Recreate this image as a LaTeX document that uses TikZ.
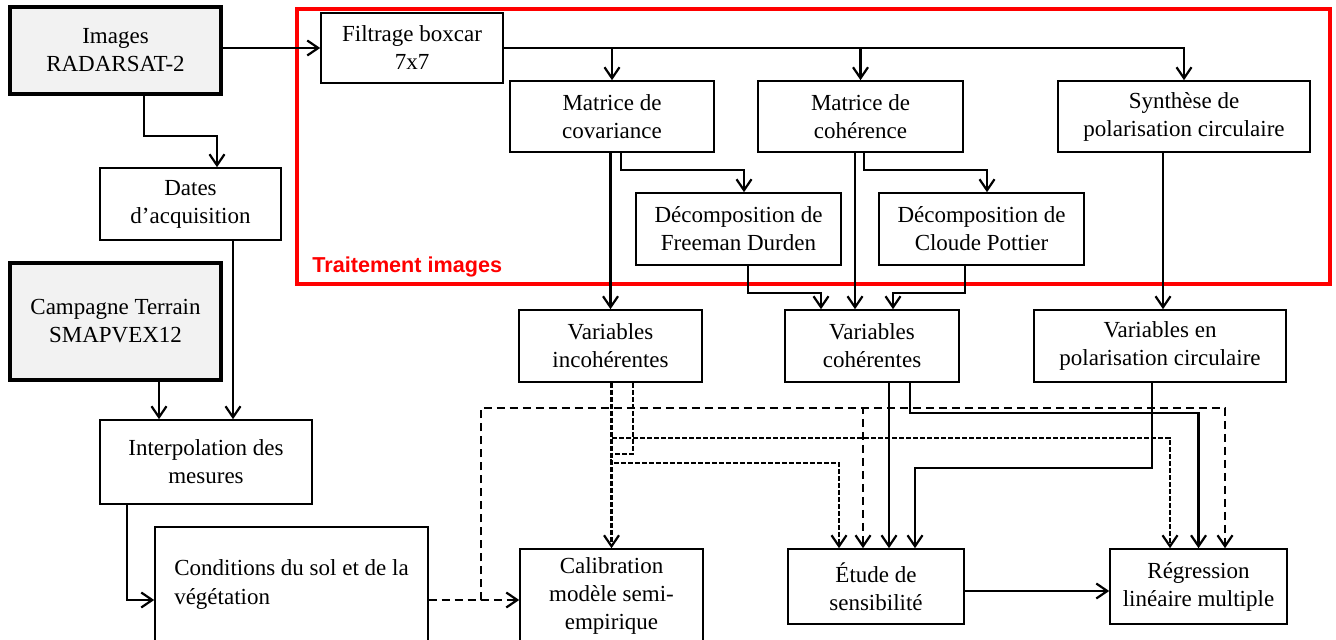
\documentclass[tikz,border=0pt]{standalone}
\usepackage{fontspec}
\setmainfont{Liberation Serif}
\newfontfamily\titrefont{Liberation Sans}
\usetikzlibrary{arrows.meta,positioning}
\definecolor{grisclair}{rgb}{0.95,0.95,0.95}
\definecolor{rougecadre}{rgb}{1,0,0}
\tikzset{
  boite/.style={
    draw=black,
    line width=.8pt,
    fill=white,
    align=center,
    inner sep=2pt,
    font=\fontsize{11.5}{14}\selectfont
  },
  boitegrise/.style={
    boite,
    fill=grisclair,
    line width=1.7pt
  },
  fleche/.style={
    -{Straight Barb[length=5.5pt,width=7.5pt]},
    line width=1.1pt
  },
  fine/.style={
    line width=.8pt
  },
  tirets/.style={
    dash pattern=on 4pt off 2.5pt,
    line width=1.2pt
  },
  pointille/.style={
    dash pattern=on 2.5pt off 1pt,
    line width=1pt
  },
  cadre/.style={
    draw=rougecadre,
    line width=2pt
  },
  titre/.style={
    text=rougecadre,
    inner sep=0pt,
    font=\titrefont\bfseries\fontsize{10.8}{12}\selectfont
  }
}

\begin{document}
\begin{tikzpicture}[x=.5pt,y=-.5pt]
\useasboundingbox (0,0) rectangle (1336,640);
% cadre du traitement
\draw[cadre] (297,9.5) rectangle (1330,284);
\node[titre,anchor=base west] (trait) at (312,273) {Traitement images};
% colonne de gauche
\node[boitegrise,minimum width=105.5pt,minimum height=43.5pt] (img) at (115.5,50.5) {Images\\RADARSAT-2};
\node[boite,minimum width=90.5pt,minimum height=36pt] (dates) at (190.5,204) {Dates\\d’acquisition};
\node[boitegrise,minimum width=105.5pt,minimum height=58.5pt] (camp) at (115.5,321.5) {Campagne Terrain\\SMAPVEX12};
\node[boite,minimum width=106pt,minimum height=42pt] (interp) at (206,462) {Interpolation des\\mesures};
\node[boite,align=left,minimum width=136.5pt,minimum height=57.5pt] (cond) at (291.5,584.5) {Conditions du sol et de la\\végétation};
% traitement images
\node[boite,minimum width=91pt,minimum height=35pt] (filt) at (412,48) {Filtrage boxcar\\7x7};
\node[boite,minimum width=102pt,minimum height=35.5pt] (mcov) at (612,116.5) {Matrice de\\covariance};
\node[boite,minimum width=102.5pt,minimum height=35.5pt] (mcoh) at (860.5,116.5) {Matrice de\\cohérence};
\node[boite,minimum width=126pt,minimum height=35.5pt] (synth) at (1184,116.5) {Synthèse de\\polarisation circulaire};
\node[boite,minimum width=102.5pt,minimum height=36pt] (fd) at (738.5,229) {Décomposition de\\Freeman Durden};
\node[boite,minimum width=102.5pt,minimum height=36pt] (cp) at (981.5,229) {Décomposition de\\Cloude Pottier};
% variables
\node[boite,minimum width=91.5pt,minimum height=36pt] (vinc) at (610.5,346) {Variables\\incohérentes};
\node[boite,minimum width=87pt,minimum height=36pt] (vcoh) at (872,346) {Variables\\cohérentes};
\node[boite,minimum width=126pt,minimum height=36pt] (vpol) at (1160,346) {Variables en\\polarisation circulaire};
% analyses
\node[boite,minimum width=91.5pt,minimum height=47pt] (calib) at (611.5,596) {Calibration\\modèle semi-\\empirique};
\node[boite,minimum width=88pt,minimum height=37.5pt] (etude) at (876,586.5) {Étude de\\sensibilité};
\node[boite,minimum width=88.5pt,minimum height=37.5pt] (regr) at (1198.5,586.5) {Régression\\linéaire multiple};
% liaisons de gauche
\draw[fleche] (img.east |- filt.west) -- (filt.west);
\draw[fleche] (img.south -| 144,0) |- (217,136) -- (dates.north -| 217,0);
\draw[fine,fleche] (dates.south -| 233,0) -- (interp.north -| 233,0);
\draw[fleche] (camp.south -| 159,0) -- (interp.north -| 159,0);
\draw[fleche] (interp.south -| 127,0) |- (cond.west |- 0,600);
% liaisons du traitement
\draw[fleche] (filt.east) -| (synth.north);
\draw[fleche] (mcov.north |- filt.east) -- (mcov.north);
\draw[fleche] (mcoh.north |- filt.east) -- (mcoh.north);
\draw[fleche] (mcov.south -| 621,0) |- (744,170) -- (fd.north -| 744,0);
\draw[fleche] (mcoh.south -| 864,0) |- (987,170) -- (cp.north -| 987,0);
\draw[fine,fleche] (mcov.south -| vinc.north) -- (vinc.north);
\draw[fleche] (mcoh.south -| 855,0) -- (vcoh.north -| 855,0);
\draw[fine,fleche] (synth.south -| 1163,0) -- (vpol.north -| 1163,0);
\draw[fleche] (fd.south -| 748,0) |- (821,293) -- (vcoh.north -| 821,0);
\draw[fleche] (cp.south -| 965,0) |- (893,293) -- (vcoh.north -| 893,0);
% liaisons vers les analyses
\draw[tirets,fleche] (cond.east |- 0,600) -- (calib.west |- 0,600);
\draw[tirets,fleche] (cond.east |- 0,600) -- (481,600) |- (863,408) -- (etude.north -| 863,0);
\draw[tirets,fleche] (cond.east |- 0,600) -- (481,600) |- (1225,408) -- (regr.north -| 1225,0);
\draw[pointille,fleche] (calib.north |- vinc.south) -- (calib.north);
\draw[pointille,fleche] (vinc.south -| 633,0) |- (611,454) |- (839,463) -- (etude.north -| 839,0);
\draw[pointille,fleche] (calib.north |- vinc.south) |- (1170,438) -- (regr.north -| 1170,0);
\draw[fine,fleche] (vcoh.south -| 889,0) -- (etude.north -| 889,0);
\draw[fleche] (vcoh.south -| 910,0) |- (regr.north |- 0,413) -- (regr.north);
\draw[fleche] (vpol.south -| 1152,0) |- (915,468) -- (etude.north -| 915,0);
\draw[fleche] (etude.east |- 0,591) -- (regr.west |- 0,591);
\end{tikzpicture}
\end{document}
